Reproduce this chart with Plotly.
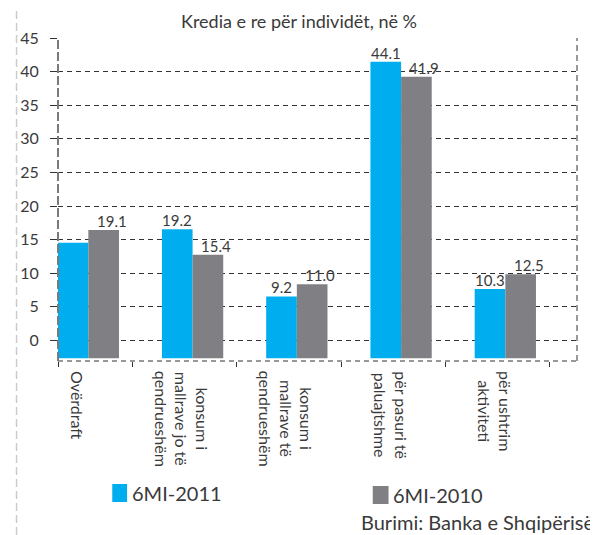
import plotly.graph_objects as go

# ---- data ----
categories = [
    "Ovërdraft",
    "konsum i<br>mallrave jo të<br>qendrueshëm",
    "konsum i<br>mallrave të<br>qendrueshëm",
    "për pasuri të<br>paluajtshme",
    "për ushtrim<br>aktiviteti",
]
series_names = ["6MI-2011", "6MI-2010"]
values_2011 = [17.2, 19.2, 9.2, 44.1, 10.3]
values_2010 = [19.1, 15.4, 11.0, 41.9, 12.5]
labels_2011 = ["", "19.2", "9.2", "44.1", "10.3"]
labels_2010 = ["19.1", "15.4", "11.0", "41.9", "12.5"]
y_ticks = [0, 5, 10, 15, 20, 25, 30, 35, 40, 45]

title_text = "Kredia e re për individët, në %"
source_text = "Burimi: Banka e Shqipërisë"

# ---- style ----
FONT = "Lato"
BLUE = "#00AEEF"
GREY = "#808084"
TXT = "#3a3a3a"
BASE = -2.65
Y_MIN = -3.05
Y_MAX = 45
X_MIN, X_MAX = -0.291, 4.6875
BAR_W = 0.294

# page offset of the figure (default body margin of the html page)
OFF = 8
FIG_W, FIG_H = 598 - OFF, 535 - OFF
# plot area in page pixels
PL, PT, W, H = 51, 38, 526, 323
L, T = PL - OFF, PT - OFF


def px_x(px):
    return (px - PL) / W


def px_y(py):
    return (PT + H - py) / H


x = list(range(len(categories)))

fig = go.Figure()
fig.add_trace(go.Bar(x=x, y=values_2011, base=BASE, name=series_names[0],
                     marker=dict(color=BLUE, line=dict(width=0))))
fig.add_trace(go.Bar(x=x, y=values_2010, base=BASE, name=series_names[1],
                     marker=dict(color=GREY, line=dict(width=0))))

annotations = []
# value labels
for i, (v, t) in enumerate(zip(values_2011, labels_2011)):
    if t:
        annotations.append(dict(x=i - BAR_W / 2, y=BASE + v, xref="x", yref="y", text=t,
                                showarrow=False, yanchor="bottom", xanchor="center",
                                yshift=-2, font=dict(family=FONT, size=15, color=TXT)))
for i, (v, t) in enumerate(zip(values_2010, labels_2010)):
    if t:
        annotations.append(dict(x=i + BAR_W / 2, y=BASE + v, xref="x", yref="y", text=t,
                                showarrow=False, yanchor="bottom", xanchor="center",
                                xshift=8, yshift=-2, font=dict(family=FONT, size=15, color=TXT)))
# category labels (rotated)
for i, c in enumerate(categories):
    annotations.append(dict(x=i - 0.1, y=0, xref="x", yref="paper", text=c,
                            showarrow=False, textangle=90, align="center",
                            xanchor="center", yanchor="top", yshift=-8,
                            font=dict(family=FONT, size=16, color=TXT)))

# custom legend (swatches + series names)
legend_colors = [BLUE, GREY]
legend_swatch = [(106, 121, 484, 502), (370, 386, 486, 504)]
legend_text_x = [124, 388]
shapes = []
for name, col, (x0, x1, y0, y1), tx in zip(series_names, legend_colors, legend_swatch, legend_text_x):
    shapes.append(dict(type="rect", xref="paper", yref="paper",
                       x0=px_x(x0), x1=px_x(x1), y0=px_y(y1), y1=px_y(y0),
                       fillcolor=col, line=dict(width=0)))
    annotations.append(dict(x=px_x(tx), y=px_y((y0 + y1) / 2), xref="paper", yref="paper",
                            text=name, showarrow=False, xanchor="left", yanchor="middle",
                            font=dict(family=FONT, size=20, color=TXT)))

# source
annotations.append(dict(x=px_x(596), y=px_y(522), xref="paper", yref="paper", text=source_text,
                        showarrow=False, xanchor="right", yanchor="middle",
                        font=dict(family=FONT, size=20, color=TXT)))

shapes += [
    # bottom border
    dict(type="line", xref="paper", yref="paper", x0=0, x1=1, y0=0, y1=0,
         line=dict(color="#333333", width=1, dash="5px,4px")),
    # right border
    dict(type="line", xref="paper", yref="paper", x0=1, x1=1, y0=0, y1=1,
         line=dict(color="#333333", width=1, dash="6px,4px")),
    # left axis line
    dict(type="line", xref="paper", yref="paper", x0=0, x1=0, y0=0, y1=1,
         line=dict(color="#7a7a7a", width=2, dash="9px,3px")),
    # outer left light frame (as far left as the figure allows)
    dict(type="line", xref="paper", yref="paper", x0=px_x(OFF + 1), x1=px_x(OFF + 1),
         y0=px_y(535), y1=px_y(OFF),
         line=dict(color="#cccccc", width=1.5, dash="8px,4px")),
]

fig.update_layout(
    width=FIG_W, height=FIG_H,
    margin=dict(l=L, r=FIG_W - L - W, t=T, b=FIG_H - T - H),
    paper_bgcolor="white", plot_bgcolor="white",
    barmode="group", bargap=1 - 2 * BAR_W, bargroupgap=0,
    font=dict(family=FONT, color=TXT),
    title=dict(text=title_text, x=(299 - OFF) / FIG_W, xref="container", xanchor="center",
               y=1 - (22 - OFF) / FIG_H, yref="container", yanchor="middle",
               font=dict(family=FONT, size=18, color=TXT)),
    xaxis=dict(range=[X_MIN, X_MAX], showgrid=False, zeroline=False, showline=False,
               tickvals=[X_MIN] + [i + 0.426 for i in x], ticks="outside", ticklen=5,
               tickcolor="#333333", showticklabels=False, fixedrange=True),
    yaxis=dict(range=[Y_MIN, Y_MAX], tickvals=y_ticks, showgrid=True,
               gridcolor="#333333", gridwidth=1, griddash="5px,4px", zeroline=False,
               showline=False, ticks="outside", ticklen=7, tickcolor="#333333",
               ticklabelstandoff=8,
               tickfont=dict(family=FONT, size=16, color=TXT)),
    showlegend=False,
    annotations=annotations,
    shapes=shapes,
)

fig.write_html("out.html")
